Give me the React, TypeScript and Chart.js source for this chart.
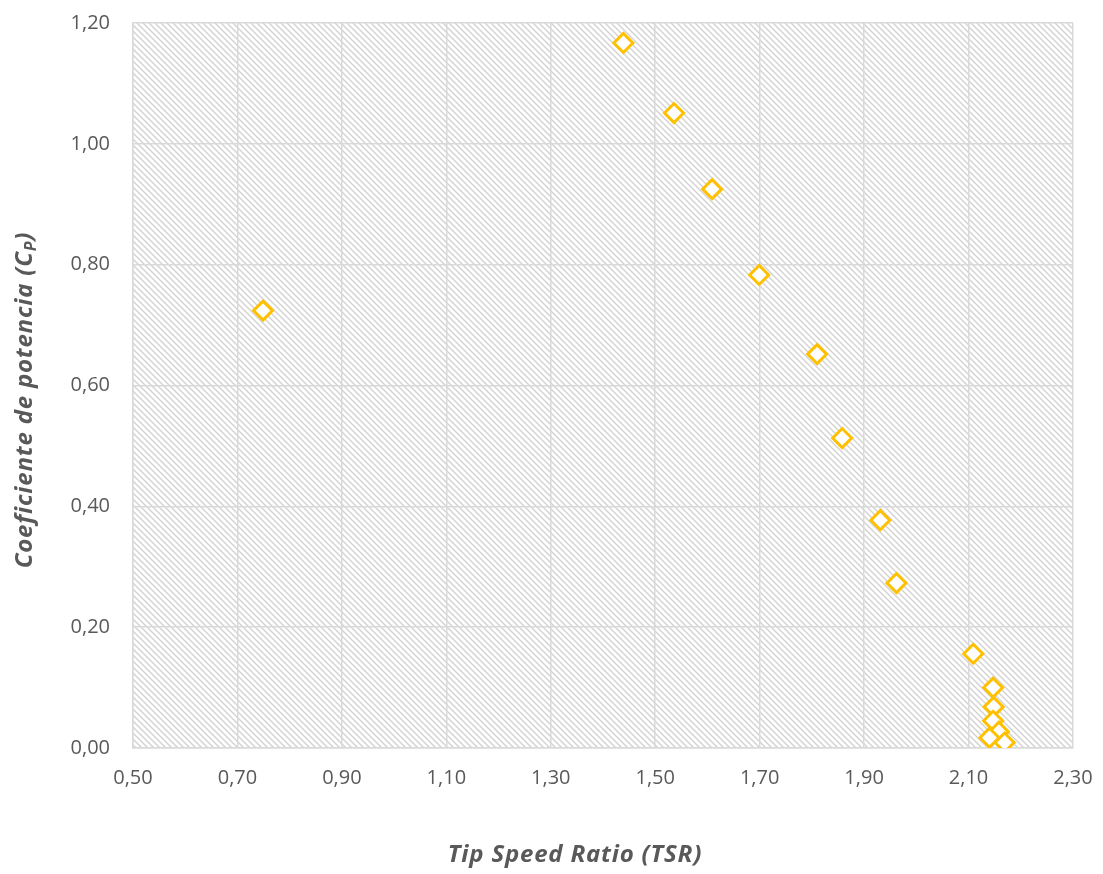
import React, { useEffect, useRef } from "react";
import { Chart, registerables } from "chart.js";

Chart.register(...registerables);

const tsrValues = [0.749, 1.439, 1.536, 1.609, 1.699, 1.81, 1.858, 1.931, 1.962, 2.109, 2.147, 2.148, 2.147, 2.158, 2.14, 2.169];
const cpValues = [0.724, 1.167, 1.051, 0.925, 0.783, 0.652, 0.513, 0.377, 0.273, 0.156, 0.1, 0.068, 0.045, 0.027, 0.017, 0.009];

const xTitle = "Tip Speed Ratio (TSR)";
const yTitleMain = "Coeficiente de potencia (C";
const yTitleSub = "P";
const yTitleEnd = ")";

const textColor = "#595959";
const gridColor = "#d9d9d9";
const markerColor = "#FFC000";

function makePattern(ctx: CanvasRenderingContext2D) {
  const s = 6;
  const c = document.createElement("canvas");
  c.width = s;
  c.height = s;
  const p = c.getContext("2d")!;
  p.fillStyle = "#ffffff";
  p.fillRect(0, 0, s, s);
  p.strokeStyle = "#d2d2d2";
  p.lineWidth = 1.4;
  p.beginPath();
  p.moveTo(-1, -1);
  p.lineTo(s + 1, s + 1);
  p.moveTo(-1, s - 1);
  p.lineTo(1, s + 1);
  p.moveTo(s - 1, -1);
  p.lineTo(s + 1, 1);
  p.stroke();
  return ctx.createPattern(c, "repeat")!;
}

const fmt = (v: number | string) => Number(v).toFixed(2).replace(".", ",");

export default function App() {
  const ref = useRef<HTMLCanvasElement>(null);
  useEffect(() => {
    document.body.style.margin = "0";
    const canvas = ref.current!;
    const ctx = canvas.getContext("2d")!;
    const pattern = makePattern(ctx);

    const bgPlugin = {
      id: "hatchBg",
      beforeDraw(chart: any) {
        const { ctx, chartArea } = chart;
        ctx.save();
        ctx.fillStyle = "#ffffff";
        ctx.fillRect(0, 0, chart.width, chart.height);
        ctx.fillStyle = pattern;
        ctx.fillRect(chartArea.left, chartArea.top, chartArea.right - chartArea.left, chartArea.bottom - chartArea.top);
        ctx.restore();
      },
    };

    const titleFamily = "'Noto Sans'";
    const titlesPlugin = {
      id: "axisTitles",
      afterDraw(chart: any) {
        const { ctx } = chart;
        ctx.save();
        (ctx as any).letterSpacing = "0.8px";
        ctx.fillStyle = textColor;
        ctx.font = `italic bold 24px ${titleFamily}`;
        ctx.textAlign = "center";
        ctx.textBaseline = "middle";
        ctx.fillText(xTitle, 575, 855);

        const mainFont = `italic bold 24px ${titleFamily}`;
        const subFont = `italic bold 16px ${titleFamily}`;
        ctx.font = mainFont;
        const w1 = ctx.measureText(yTitleMain).width;
        const w3 = ctx.measureText(yTitleEnd).width;
        ctx.font = subFont;
        const w2 = ctx.measureText(yTitleSub).width;
        const total = w1 + w2 + w3;
        ctx.translate(24, 400);
        ctx.rotate(-Math.PI / 2);
        ctx.textAlign = "left";
        ctx.textBaseline = "alphabetic";
        let x = -total / 2;
        ctx.font = mainFont;
        ctx.fillText(yTitleMain, x, 8);
        x += w1;
        ctx.font = subFont;
        ctx.fillText(yTitleSub, x, 12);
        x += w2;
        ctx.font = mainFont;
        ctx.fillText(yTitleEnd, x, 8);
        ctx.restore();
      },
    };

    const chart = new Chart(canvas, {
      type: "scatter",
      data: {
        datasets: [
          {
            label: "Cp",
            data: tsrValues.map((x, i) => ({ x, y: cpValues[i] })),
            pointStyle: "rectRot",
            pointRadius: 9.5,
            pointHoverRadius: 9.5,
            pointBorderWidth: 3,
            borderColor: markerColor,
            backgroundColor: "#ffffff",
            pointBackgroundColor: "#ffffff",
            pointBorderColor: markerColor,
          },
        ],
      },
      options: {
        responsive: false,
        animation: false,
        layout: { padding: { top: 23, right: 30, left: 0, bottom: 0 } },
        plugins: {
          legend: { display: false },
          tooltip: { enabled: false },
        },
        scales: {
          x: {
            type: "linear",
            min: 0.5,
            max: 2.3,
            ticks: {
              stepSize: 0.2,
              color: textColor,
              font: { family: "'Open Sans'", size: 20 },
              padding: 18,
              maxRotation: 0,
              callback: (v: any) => fmt(v),
            },
            grid: { color: gridColor, lineWidth: 1.5, drawTicks: false },
            border: { color: gridColor, width: 1.5 },
            afterFit: (s: any) => {
              s.height = 126;
              s.paddingLeft = 0;
              s.paddingRight = 0;
            },
          },
          y: {
            type: "linear",
            min: 0,
            max: 1.2,
            ticks: {
              stepSize: 0.2,
              color: textColor,
              font: { family: "'Open Sans'", size: 20 },
              padding: 23,
              callback: (v: any) => fmt(v),
            },
            grid: { color: gridColor, lineWidth: 1.5, drawTicks: false },
            border: { color: gridColor, width: 1.5 },
            afterFit: (s: any) => {
              s.width = 133;
              s.paddingTop = 0;
              s.paddingBottom = 0;
            },
          },
        },
      },
      plugins: [bgPlugin, titlesPlugin],
    });
    return () => chart.destroy();
  }, []);
  return (
    <div style={{ width: 1103, height: 874 }}>
      <canvas ref={ref} width={1103} height={874} style={{ display: "block" }} />
    </div>
  );
}
